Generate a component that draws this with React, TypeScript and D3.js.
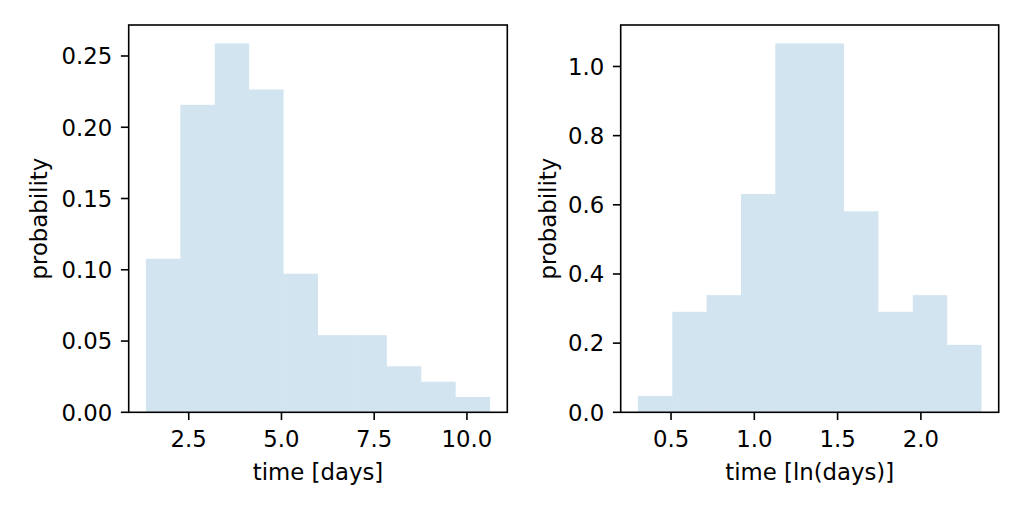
import React from "react";
import * as d3 from "d3";

// Left histogram: time [days]
const leftBinRange = [1.345, 10.625];
const leftDensity = [0.1077, 0.2157, 0.2588, 0.2265, 0.0972, 0.0541, 0.0541, 0.0323, 0.0215, 0.0108];
const leftXTicks = [2.5, 5.0, 7.5, 10.0];
const leftYTicks = [0.0, 0.05, 0.1, 0.15, 0.2, 0.25];

// Right histogram: time [ln(days)]
const rightBinRange = [0.301, 2.364];
const rightDensity = [0.0473, 0.2905, 0.3388, 0.6313, 1.0666, 1.0666, 0.5811, 0.2905, 0.3388, 0.195];
const rightXTicks = [0.5, 1.0, 1.5, 2.0];
const rightYTicks = [0.0, 0.2, 0.4, 0.6, 0.8, 1.0];

const FONT = "'DejaVu Sans', sans-serif";
const FS = 22.8;

type PanelProps = {
  left: number;
  right: number;
  top: number;
  bottom: number;
  binRange: number[];
  density: number[];
  xTicks: number[];
  yTicks: number[];
  xFmt: string;
  yFmt: string;
  xLabel: string;
  yLabelX: number;
};

function Panel(p: PanelProps) {
  const [lo, hi] = p.binRange;
  const span = hi - lo;
  const x = d3.scaleLinear().domain([lo - 0.05 * span, hi + 0.05 * span]).range([p.left, p.right]);
  const ymax = d3.max(p.density) as number;
  const y = d3.scaleLinear().domain([0, ymax * 1.05]).range([p.bottom, p.top]);
  const n = p.density.length;
  const w = span / n;
  const xf = d3.format(p.xFmt);
  const yf = d3.format(p.yFmt);
  const tickLen = 7.8;
  const sw = 1.6;
  return (
    <g>
      {p.density.map((v, i) => {
        const x0 = x(lo + i * w);
        const x1 = x(lo + (i + 1) * w);
        return (
          <rect
            key={i}
            x={x0}
            y={y(v)}
            width={x1 - x0}
            height={y(0) - y(v)}
            fill="#1f77b4"
            fillOpacity={0.2}
          />
        );
      })}
      <rect
        x={p.left}
        y={p.top}
        width={p.right - p.left}
        height={p.bottom - p.top}
        fill="none"
        stroke="#000"
        strokeWidth={sw}
      />
      {p.xTicks.map((t, i) => (
        <g key={"xt" + i}>
          <line x1={x(t)} x2={x(t)} y1={p.bottom} y2={p.bottom + tickLen} stroke="#000" strokeWidth={sw} />
          <text x={x(t)} y={446.5} textAnchor="middle" fontFamily={FONT} fontSize={FS} fill="#000">
            {xf(t)}
          </text>
        </g>
      ))}
      {p.yTicks.map((t, i) => (
        <g key={"yt" + i}>
          <line x1={p.left - tickLen} x2={p.left} y1={y(t)} y2={y(t)} stroke="#000" strokeWidth={sw} />
          <text x={p.left - 16.5} y={y(t) + 8.3} textAnchor="end" fontFamily={FONT} fontSize={FS} fill="#000">
            {yf(t)}
          </text>
        </g>
      ))}
      <text
        x={(p.left + p.right) / 2}
        y={480}
        textAnchor="middle"
        fontFamily={FONT}
        fontSize={FS}
        fill="#000"
      >
        {p.xLabel}
      </text>
      <text
        transform={`translate(${p.yLabelX},${(p.top + p.bottom) / 2}) rotate(-90)`}
        textAnchor="middle"
        fontFamily={FONT}
        fontSize={FS}
        fill="#000"
      >
        probability
      </text>
    </g>
  );
}

export default function App() {
  return (
    <svg
      width={1024}
      height={512}
      style={{ position: "absolute", left: 0, top: 0, background: "#fff" }}
    >
      <rect x={0} y={0} width={1024} height={512} fill="#fff" />
      <Panel
        left={128.7}
        right={507.3}
        top={25}
        bottom={412.3}
        binRange={leftBinRange}
        density={leftDensity}
        xTicks={leftXTicks}
        yTicks={leftYTicks}
        xFmt=".1f"
        yFmt=".2f"
        xLabel="time [days]"
        yLabelX={47}
      />
      <Panel
        left={620.7}
        right={998.7}
        top={25}
        bottom={412.3}
        binRange={rightBinRange}
        density={rightDensity}
        xTicks={rightXTicks}
        yTicks={rightYTicks}
        xFmt=".1f"
        yFmt=".1f"
        xLabel="time [ln(days)]"
        yLabelX={556}
      />
    </svg>
  );
}
